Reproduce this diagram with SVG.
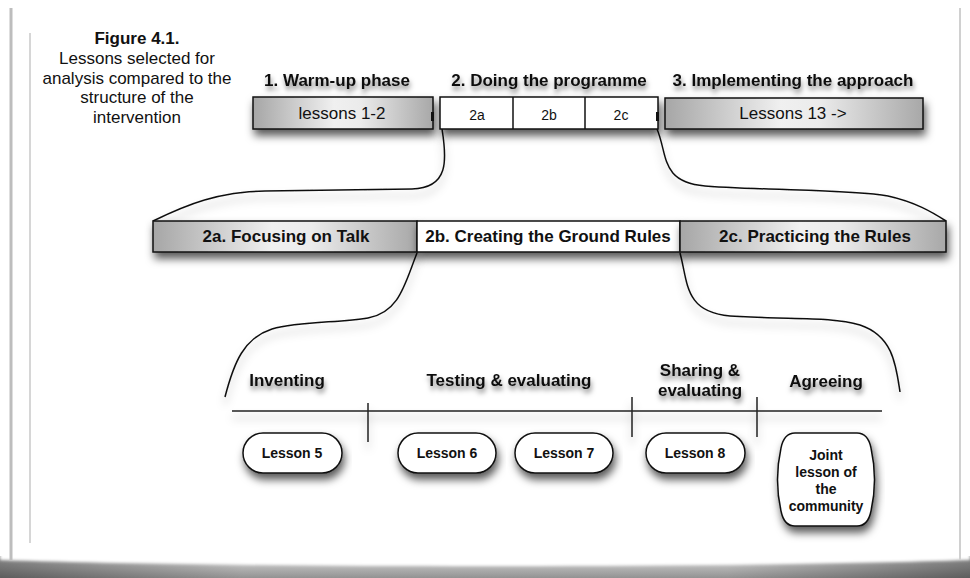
<svg xmlns="http://www.w3.org/2000/svg" width="970" height="578" viewBox="0 0 970 578">
  <defs>
    <linearGradient id="grayFill" x1="0" y1="0" x2="1" y2="0">
      <stop offset="0" stop-color="#a6a6a6"/>
      <stop offset="0.45" stop-color="#f0f0f0"/>
      <stop offset="0.6" stop-color="#ebebeb"/>
      <stop offset="1" stop-color="#a8a8a8"/>
    </linearGradient>
    <linearGradient id="floorShade" x1="0" y1="0" x2="0" y2="1">
      <stop offset="0" stop-color="#e8e8e8"/>
      <stop offset="1" stop-color="#9a9a9a"/>
    </linearGradient>
    <linearGradient id="floorSide" x1="0" y1="0" x2="1" y2="0">
      <stop offset="0" stop-color="#000" stop-opacity="0.4"/>
      <stop offset="0.25" stop-color="#000" stop-opacity="0.05"/>
      <stop offset="0.75" stop-color="#000" stop-opacity="0.05"/>
      <stop offset="1" stop-color="#000" stop-opacity="0.4"/>
    </linearGradient>
    <filter id="boxShadow" x="-10%" y="-30%" width="120%" height="190%">
      <feDropShadow dx="2" dy="6" stdDeviation="4" flood-color="#000" flood-opacity="0.65"/>
    </filter>
    <filter id="textShadow" x="-10%" y="-40%" width="120%" height="200%">
      <feDropShadow dx="1" dy="4" stdDeviation="2.5" flood-color="#000" flood-opacity="0.5"/>
    </filter>
    <filter id="lineShadow" x="-10%" y="-20%" width="120%" height="160%">
      <feDropShadow dx="0" dy="7" stdDeviation="4" flood-color="#000" flood-opacity="0.3"/>
    </filter>
    <filter id="soft" x="-5%" y="-100%" width="110%" height="300%">
      <feGaussianBlur stdDeviation="1.5"/>
    </filter>
    <style>
      .cap { font-family: "Liberation Sans", Arial, sans-serif; font-size: 17px; fill: #111; text-anchor: middle; }
      .hd { font-family: "Liberation Sans", Arial, sans-serif; font-size: 17px; font-weight: bold; fill: #111; text-anchor: middle; }
      .bx { font-family: "Liberation Sans", Arial, sans-serif; font-size: 17px; fill: #111; text-anchor: middle; }
      .sm { font-family: "Liberation Sans", Arial, sans-serif; font-size: 14px; fill: #111; text-anchor: middle; }
      .pl { font-family: "Liberation Sans", Arial, sans-serif; font-size: 14px; font-weight: bold; fill: #111; text-anchor: middle; }
      .gray { fill: url(#grayFill); stroke: #111; stroke-width: 1.5; }
      .white { fill: #fff; stroke: #111; stroke-width: 1.5; }
      .pill { fill: #fff; stroke: #111; stroke-width: 1.5; }
      .wire { fill: none; stroke: #111; stroke-width: 1.5; }
      .tick { fill: none; stroke: #222; stroke-width: 1.5; }
    </style>
  </defs>

  <!-- page with curled bottom edge -->
  <rect x="0" y="0" width="970" height="578" fill="#fff"/>
  <rect x="0" y="555" width="970" height="23" fill="url(#floorShade)"/>
  <rect x="0" y="555" width="970" height="23" fill="url(#floorSide)"/>
  <path d="M0,550 L970,550 L970,560 C720,568 250,568 0,560 Z" fill="#fff" filter="url(#soft)"/>
  <rect x="0" y="0" width="970" height="556" fill="#fff"/>
  <line x1="11" y1="8" x2="11" y2="560" stroke="#bdbdbd" stroke-width="3"/>
  <line x1="960" y1="8" x2="960" y2="560" stroke="#d0d0d0" stroke-width="2"/>
  <line x1="30" y1="33" x2="30" y2="543" stroke="#c8c8c8" stroke-width="1.5"/>

  <!-- caption -->
  <g id="caption">
    <text class="hd" x="137" y="44">Figure 4.1.</text>
    <text class="cap" x="137" y="64">Lessons selected for</text>
    <text class="cap" x="137" y="84">analysis compared to the</text>
    <text class="cap" x="137" y="103">structure of the</text>
    <text class="cap" x="137" y="123">intervention</text>
  </g>

  <!-- connectors -->
  <g id="connectors" filter="url(#lineShadow)">
    <path class="wire" d="M442,129 C447,160 449,188 412,189 L265,191 C218,192 188,204 153,221"/>
    <path class="wire" d="M657,129 C668,155 660,182 705,186 C770,191 850,189 888,196 C915,202 932,212 946,221"/>
    <path class="wire" d="M417,253 C405,283 400,312 368,318 C340,323 300,321 272,329 C244,338 234,362 225,397"/>
    <path class="wire" d="M680,253 C688,282 684,312 730,316 C790,320 830,316 860,325 C893,336 896,365 900,392"/>
  </g>

  <!-- phase 1 -->
  <g id="phase1">
    <text class="hd" x="337" y="86" filter="url(#textShadow)">1. Warm-up phase</text>
    <rect class="gray" x="253" y="97" width="180" height="32" filter="url(#boxShadow)"/>
    <text class="bx" x="342" y="119">lessons 1-2</text>
    <rect x="431" y="112" width="3" height="9" fill="#111"/>
  </g>

  <!-- phase 2 -->
  <g id="phase2">
    <text class="hd" x="549" y="86" filter="url(#textShadow)">2. Doing the programme</text>
    <g filter="url(#boxShadow)">
      <rect class="white" x="440" y="97" width="218" height="32"/>
    </g>
    <line x1="513" y1="97" x2="513" y2="129" stroke="#111" stroke-width="1.5"/>
    <line x1="585" y1="97" x2="585" y2="129" stroke="#111" stroke-width="1.5"/>
    <text class="sm" x="477" y="120">2a</text>
    <text class="sm" x="549" y="120">2b</text>
    <text class="sm" x="621" y="120">2c</text>
    <rect x="656" y="112" width="3" height="9" fill="#111"/>
  </g>

  <!-- phase 3 -->
  <g id="phase3">
    <text class="hd" x="793" y="86" filter="url(#textShadow)">3. Implementing the approach</text>
    <rect class="gray" x="665" y="98" width="258" height="31" filter="url(#boxShadow)"/>
    <text class="bx" x="793" y="119">Lessons 13 -&gt;</text>
  </g>

  <!-- stage 2 breakdown -->
  <g id="stage2a">
    <rect class="gray" x="153" y="221" width="264" height="31" filter="url(#boxShadow)"/>
    <text class="hd" x="286" y="242">2a. Focusing on Talk</text>
  </g>
  <g id="stage2b">
    <rect class="white" x="417" y="221" width="263" height="31" filter="url(#boxShadow)"/>
    <text class="hd" x="548" y="242">2b. Creating the Ground Rules</text>
  </g>
  <g id="stage2c">
    <rect class="gray" x="680" y="221" width="266" height="31" filter="url(#boxShadow)"/>
    <text class="hd" x="815" y="242">2c. Practicing the Rules</text>
  </g>

  <!-- timeline -->
  <g id="timeline" filter="url(#lineShadow)">
    <line class="tick" x1="232" y1="411" x2="882" y2="411"/>
    <line class="tick" x1="368" y1="403" x2="368" y2="442"/>
    <line class="tick" x1="632" y1="397" x2="632" y2="437"/>
    <line class="tick" x1="757" y1="397" x2="757" y2="437"/>
  </g>

  <g id="labels" filter="url(#textShadow)">
    <text class="hd" x="287" y="386">Inventing</text>
    <text class="hd" x="509" y="386">Testing &amp; evaluating</text>
    <text class="hd" x="700" y="376">Sharing &amp;</text>
    <text class="hd" x="700" y="396">evaluating</text>
    <text class="hd" x="826" y="387">Agreeing</text>
  </g>

  <!-- lessons -->
  <g id="lesson5">
    <rect class="pill" x="243" y="433" width="99" height="40" rx="20" filter="url(#boxShadow)"/>
    <text class="pl" x="292" y="458">Lesson 5</text>
  </g>
  <g id="lesson6">
    <rect class="pill" x="398" y="433" width="98" height="40" rx="20" filter="url(#boxShadow)"/>
    <text class="pl" x="447" y="458">Lesson 6</text>
  </g>
  <g id="lesson7">
    <rect class="pill" x="515" y="433" width="98" height="40" rx="20" filter="url(#boxShadow)"/>
    <text class="pl" x="564" y="458">Lesson 7</text>
  </g>
  <g id="lesson8">
    <rect class="pill" x="646" y="433" width="99" height="40" rx="20" filter="url(#boxShadow)"/>
    <text class="pl" x="695" y="458">Lesson 8</text>
  </g>
  <g id="joint">
    <path class="pill" filter="url(#boxShadow)" d="M795,433 L857,433 Q868,433 871,448 Q878,480 871,511 Q868,526 857,526 L795,526 Q784,526 781,511 Q774,480 781,448 Q784,433 795,433 Z"/>
    <text class="pl" x="826" y="460">Joint</text>
    <text class="pl" x="826" y="477">lesson of</text>
    <text class="pl" x="826" y="494">the</text>
    <text class="pl" x="826" y="511">community</text>
  </g>
</svg>
